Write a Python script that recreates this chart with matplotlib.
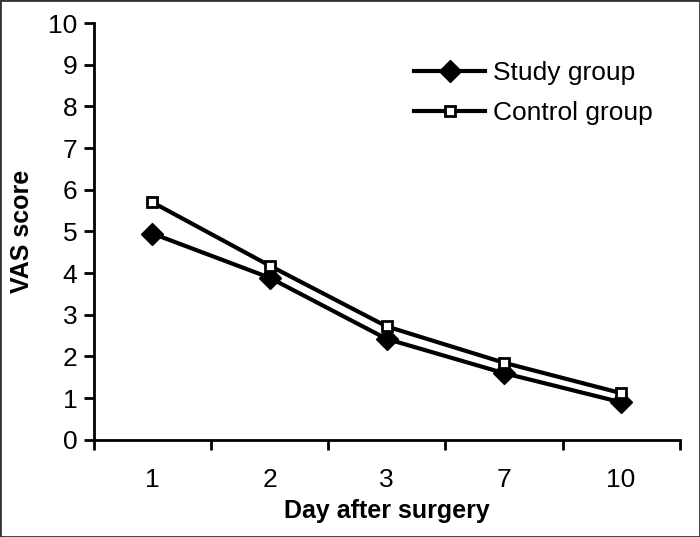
import matplotlib.pyplot as plt
from matplotlib.patches import Rectangle

plt.rcParams['font.family'] = ['Liberation Sans', 'DejaVu Sans']

days = ["1", "2", "3", "7", "10"]
study = [4.95, 3.89, 2.42, 1.6, 0.9]
control = [5.7, 4.18, 2.72, 1.85, 1.12]

fig = plt.figure(figsize=(7, 5.37), dpi=100)
ax = fig.add_axes([0.134, 0.181, 0.837, 0.776])

x = list(range(len(days)))
ax.plot(x, study, color="black", linewidth=3, marker="D", markersize=11,
        markerfacecolor="black", markeredgecolor="black", label="Study group", zorder=3)
ax.plot(x, control, color="black", linewidth=3, marker="s", markersize=7,
        markerfacecolor="white", markeredgecolor="black", markeredgewidth=2,
        label="Control group", zorder=3)

ax.set_xlim(-0.5, len(days) - 0.5)
ax.set_ylim(0, 10)
ax.set_yticks(range(0, 11))
ax.set_xticks([i - 0.5 for i in range(len(days) + 1)])
ax.set_xticklabels([])
ax.set_xticks(x, minor=True)
ax.set_xticklabels(days, minor=True)
ax.tick_params(axis="x", which="minor", length=0, pad=20, labelsize=19)
ax.tick_params(axis="x", which="major", length=7, width=2, direction="out")
ax.tick_params(axis="y", length=7, width=2, direction="out", labelsize=19, pad=5)

for s in ["top", "right"]:
    ax.spines[s].set_visible(False)
for s in ["left", "bottom"]:
    ax.spines[s].set_linewidth(2)

ax.set_xlabel("Day after surgery", fontsize=18, fontweight="bold", labelpad=5)
ax.set_ylabel("VAS score", fontsize=18, fontweight="bold", labelpad=10)

ax.legend(loc="upper right", bbox_to_anchor=(0.995, 0.965), frameon=False,
          fontsize=19, handlelength=2.7, handletextpad=0.3, labelspacing=0.6)

fig.patches.append(Rectangle((0, 0), 1, 1, transform=fig.transFigure, fill=False,
                             edgecolor="#333333", linewidth=2))

fig.savefig("out.png", dpi=100)
